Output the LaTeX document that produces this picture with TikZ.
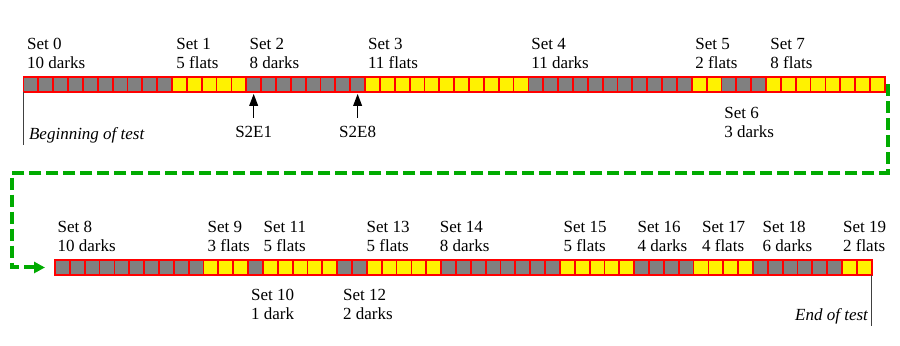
\documentclass[tikz,border=0pt]{standalone}
\usepackage{fontspec}
\setmainfont{Liberation Serif}
\newfontfamily\labelfont{Liberation Serif}
\usepackage{tikz}
\usetikzlibrary{
    arrows.meta,
    calc,
    positioning
}
\tikzset
{
  cell/.style={draw=red,line width=0.9pt,minimum size=7.425pt,inner sep=0pt,outer sep=0pt},
  darkcell/.style={cell,fill=gray},
  flatcell/.style={cell,fill=yellow},
  setlabel/.style={align=left,inner sep=1.5pt,font=\labelfont\fontsize{8.5}{9.5}\selectfont},
  marker/.style={draw=black,line width=0.6pt,-{Triangle[length=6pt,width=4.4pt]}},
  flow/.style={draw=green!67!black,line width=2pt,dash pattern=on 6pt off 2.5pt,-{Triangle[length=5.5pt,width=5.5pt]}}
}

\begin{document}
\begin{tikzpicture}[x=0.5pt,y=-0.5pt]
        \useasboundingbox (0,0) rectangle (900,346);

        % First row: sets 0 to 7
        \foreach \first/\num/\kind in {0/10/darkcell,10/5/flatcell,15/8/darkcell,23/11/flatcell,34/11/darkcell,45/2/flatcell,47/3/darkcell,50/8/flatcell}
          \foreach \j in {1,...,\num}
          {
            \pgfmathtruncatemacro\k{\first+\j-1}
            \node[\kind] (r1-\k) at (30.925+14.85*\k,84.5) {};
          }

        % Second row: sets 8 to 19
        \foreach \first/\num/\kind in {0/10/darkcell,10/3/flatcell,13/1/darkcell,14/5/flatcell,19/2/darkcell,21/5/flatcell,26/8/darkcell,34/5/flatcell,39/4/darkcell,43/4/flatcell,47/6/darkcell,53/2/flatcell}
          \foreach \j in {1,...,\num}
          {
            \pgfmathtruncatemacro\k{\first+\j-1}
            \node[\kind] (r2-\k) at (62.425+14.85*\k,267.5) {};
          }

        % Labels above and below the rows
        \foreach \x/\txt [count=\i] in {23.7/{Set 0\\10 darks},173/{Set 1\\5 flats},246.3/{Set 2\\8 darks},364.7/{Set 3\\11 flats},528/{Set 4\\11 darks},692/{Set 5\\2 flats},767/{Set 7\\8 flats}}
          \node[setlabel,anchor=south west] (top1-\i) at (\x,72) {\txt};
        \node[setlabel,anchor=north west] (set6) at (721,103.5) {Set 6\\3 darks};
        \foreach \x/\txt [count=\i] in {54.3/{Set 8\\10 darks},204.3/{Set 9\\3 flats},260.3/{Set 11\\5 flats},363.3/{Set 13\\5 flats},436.5/{Set 14\\8 darks},560.3/{Set 15\\5 flats},634.3/{Set 16\\4 darks},698.7/{Set 17\\4 flats},759.3/{Set 18\\6 darks},839.7/{Set 19\\2 flats}}
          \node[setlabel,anchor=south west] (top2-\i) at (\x,255) {\txt};
        \node[setlabel,anchor=north west] (set10) at (247.7,286.2) {Set 10\\1 dark};
        \node[setlabel,anchor=north west] (set12) at (339.7,286.2) {Set 12\\2 darks};

        % Exposure markers
        \node[setlabel,below=15.5pt of r1-15] (s2e1) {S2E1};
        \node[setlabel,below=15.5pt of r1-22] (s2e8) {S2E8};
        \draw[marker,shorten <=2.5pt,shorten >=1pt] (s2e1) -- (r1-15);
        \draw[marker,shorten <=2.5pt,shorten >=1pt] (s2e8) -- (r1-22);

        % Beginning and end of test
        \coordinate (begtest) at (23.5,145);
        \draw[line width=0.5pt,black!75] (r1-0.south west) -- (begtest);
        \node[setlabel,anchor=base west,font=\labelfont\fontsize{8.5}{9.5}\selectfont\itshape] (begtxt) at (25.7,140) {Beginning of test};
        \draw[line width=0.5pt,black!75] (r2-54.south east) -- ++(0,51) coordinate (endtest);
        \node[setlabel,anchor=base east,font=\labelfont\fontsize{8.5}{9.5}\selectfont\itshape] (endtxt) at (871.3,320.7) {End of test};

        % Row 1 continues in row 2
        \coordinate (bend) at (12,173);
        \draw[flow] ([xshift=1.5pt]r1-57.east) |- (bend) |- ([xshift=-5pt]r2-0.west);
    \end{tikzpicture}
\end{document}
